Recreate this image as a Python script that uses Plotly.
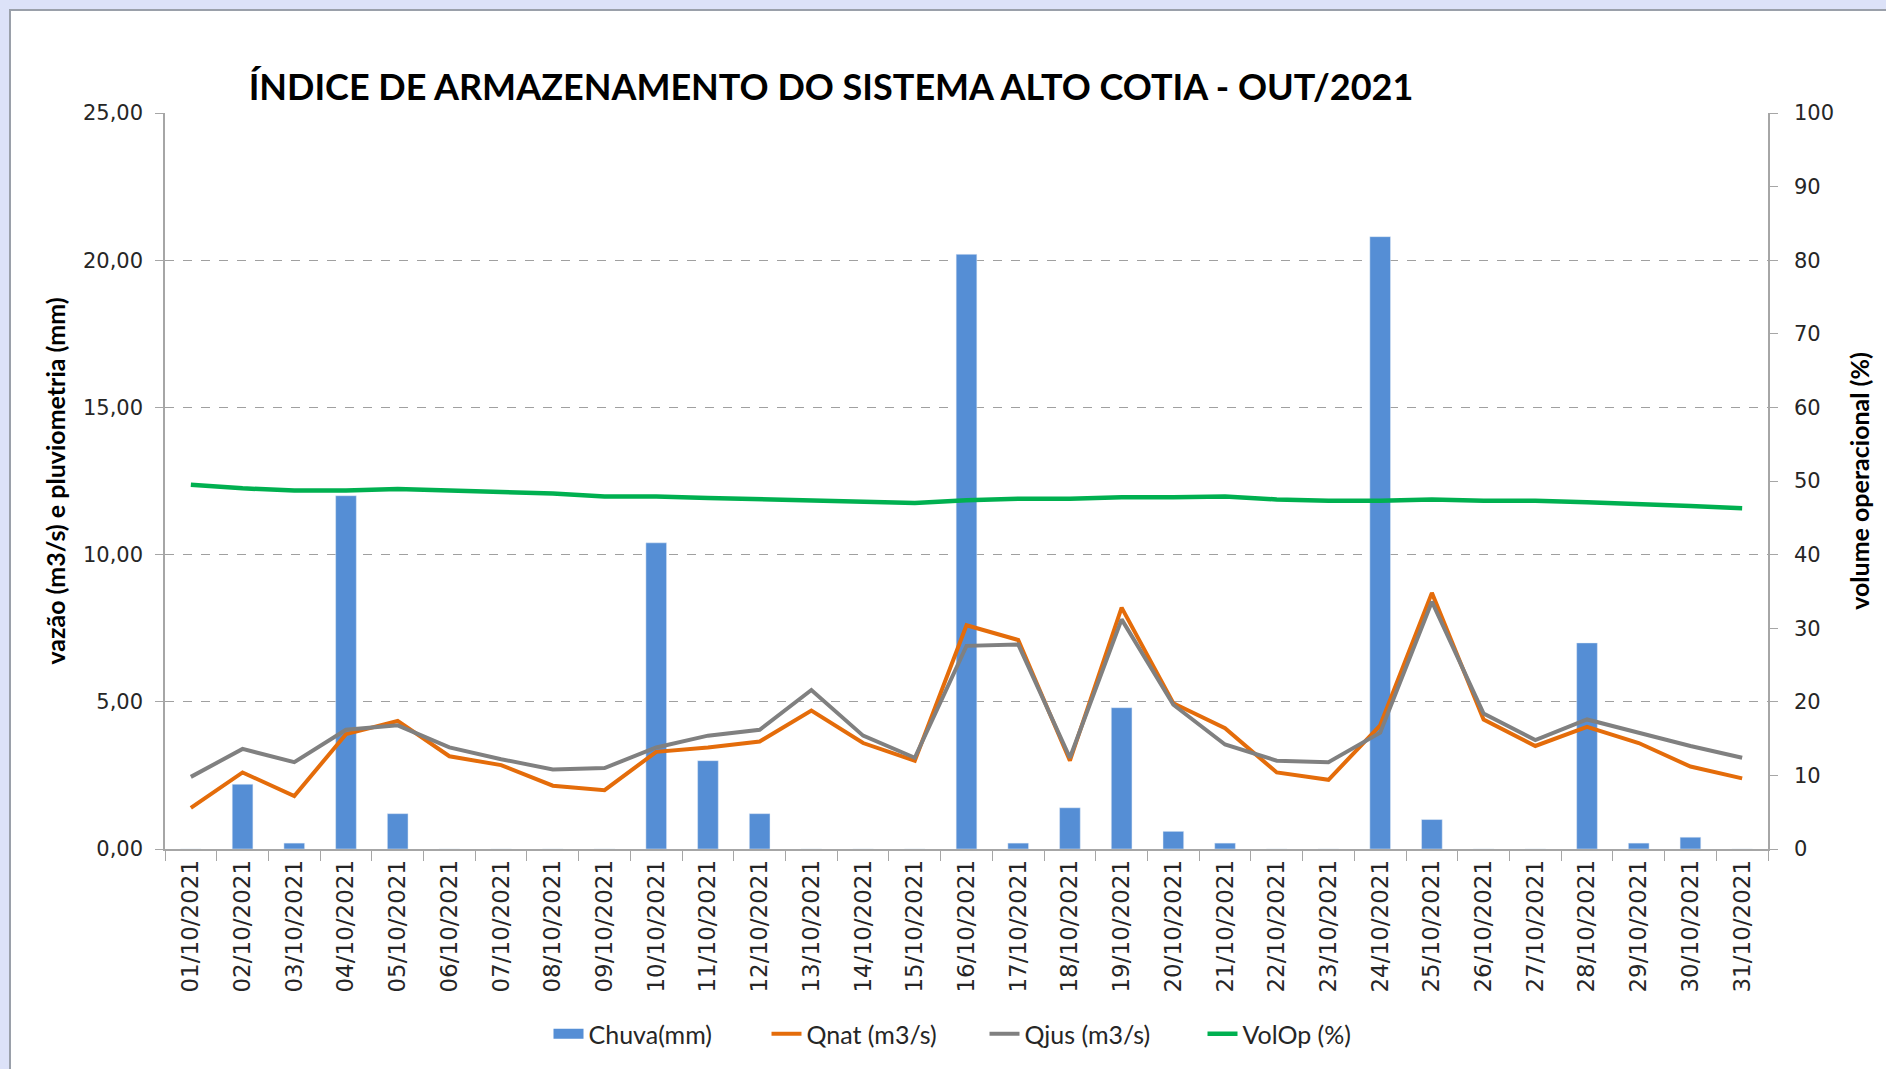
import plotly.graph_objects as go

dates = [f"{d:02d}/10/2021" for d in range(1, 32)]

chuva = [0, 2.2, 0.2, 12.0, 1.2, 0, 0, 0, 0, 10.4, 3.0, 1.2, 0, 0, 0, 20.2,
         0.2, 1.4, 4.8, 0.6, 0.2, 0, 0, 20.8, 1.0, 0, 0, 7.0, 0.2, 0.4, 0]

qnat = [1.4, 2.6, 1.8, 3.9, 4.35, 3.15, 2.85, 2.15, 2.0, 3.3, 3.45, 3.65, 4.7,
        3.6, 3.0, 7.6, 7.1, 3.0, 8.2, 4.95, 4.1, 2.6, 2.35, 4.2, 8.7, 4.4, 3.5,
        4.15, 3.6, 2.8, 2.4]

qjus = [2.45, 3.4, 2.95, 4.05, 4.2, 3.45, 3.05, 2.7, 2.75, 3.45, 3.85, 4.05,
        5.4, 3.85, 3.1, 6.9, 6.95, 3.1, 7.8, 4.9, 3.55, 3.0, 2.95, 3.95, 8.4,
        4.6, 3.7, 4.4, 3.95, 3.5, 3.1]

volop = [49.5, 49.0, 48.7, 48.7, 48.9, 48.7, 48.5, 48.3, 47.9, 47.9, 47.7,
         47.5, 47.4, 47.2, 47.0, 47.4, 47.6, 47.6, 47.8, 47.8, 47.9, 47.5,
         47.3, 47.3, 47.5, 47.3, 47.3, 47.1, 46.9, 46.6, 46.3]

W, H = 1886, 1069
L, R, T, B = 165, 118, 113, 220
pw, ph = W - L - R, H - T - B

BAR_COLOR = "#558ED5"

fig = go.Figure()
fig.add_trace(go.Bar(x=dates, y=chuva, name="Chuva(mm)", marker_color=BAR_COLOR,
                     width=0.4, yaxis="y", legendgroup="chuva", showlegend=False))
# legend entry for the bars drawn as a wide block like the original
fig.add_trace(go.Scatter(x=[dates[0]], y=[None], name="Chuva(mm)", mode="lines",
                         line=dict(color=BAR_COLOR, width=16),
                         legendgroup="chuva", hoverinfo="skip"))
fig.add_trace(go.Scatter(x=dates, y=qnat, name="Qnat (m3/s)", mode="lines",
                         line=dict(color="#E46C0A", width=4), yaxis="y"))
fig.add_trace(go.Scatter(x=dates, y=qjus, name="Qjus (m3/s)", mode="lines",
                         line=dict(color="#808080", width=4), yaxis="y"))
fig.add_trace(go.Scatter(x=dates, y=volop, name="VolOp (%)", mode="lines",
                         line=dict(color="#00B050", width=4.5), yaxis="y2"))

tickfont = dict(family="DejaVu Sans", size=21, color="#262626")
xtickfont = dict(family="DejaVu Sans", size=23, color="#262626")
titlefont = dict(family="Lato", size=25, color="#000000")

fig.update_layout(
    width=W, height=H,
    margin=dict(l=L, r=R, t=T, b=B, autoexpand=False),
    paper_bgcolor="#DCE2F8",
    plot_bgcolor="#E9E9E9",
    separators=",.",
    title=dict(text="<b>ÍNDICE DE ARMAZENAMENTO DO SISTEMA ALTO COTIA - OUT/2021</b>",
               x=831 / W, y=1 - 87 / H, xref="container", yref="container",
               xanchor="center", yanchor="middle",
               font=dict(family="Lato", size=36, color="#000000")),
    xaxis=dict(type="category", tickangle=-90, tickfont=xtickfont,
               showline=True, linecolor="#A6A6A6", linewidth=1.5,
               ticks="outside", ticklen=10, tickcolor="#A6A6A6",
               tickson="boundaries", showgrid=False, zeroline=False,
               range=[-0.5, 30.5], automargin=False),
    yaxis=dict(range=[0, 25], dtick=5, tickformat=".2f", tickfont=tickfont,
               showline=True, linecolor="#A6A6A6", linewidth=1.5,
               ticks="outside", ticklen=8, tickcolor="#A6A6A6",
               ticklabelstandoff=8, automargin=False,
               showgrid=True, gridcolor="#A0A0A0", griddash="dash", gridwidth=1,
               zeroline=False,
               title=dict(text="<b>vazão (m3/s) e pluviometria (mm)</b>",
                          font=titlefont, standoff=10)),
    yaxis2=dict(range=[0, 100], dtick=10, overlaying="y", side="right",
                tickfont=tickfont, showline=True, linecolor="#A6A6A6",
                linewidth=1.5, ticks="outside", ticklen=8, tickcolor="#A6A6A6",
                ticklabelstandoff=12, automargin=False,
                showgrid=False, zeroline=False,
                title=dict(text="<b>volume operacional (%)</b>", font=titlefont,
                           standoff=18)),
    legend=dict(orientation="h", x=0.5 + 18 / pw, xanchor="center",
                y=(T + ph - 1034) / ph, yanchor="middle",
                font=dict(family="Lato", size=25, color="#262626"),
                bgcolor="rgba(0,0,0,0)", traceorder="normal",
                entrywidth=173),
    showlegend=True,
)

# white chart area with thin border over the lavender window background
fig.add_shape(type="rect", xref="paper", yref="paper", layer="below",
              x0=(10 - L) / pw, x1=(W + 5 - L) / pw,
              y0=(T + ph - H - 5) / ph, y1=(T + ph - 10) / ph,
              fillcolor="#FFFFFF", line=dict(color="#9AA0AA", width=2))

fig.write_html("out.html",
               config={"displayModeBar": False},
               post_script="document.body.style.margin='0';"
                           "document.body.style.overflow='hidden';")
